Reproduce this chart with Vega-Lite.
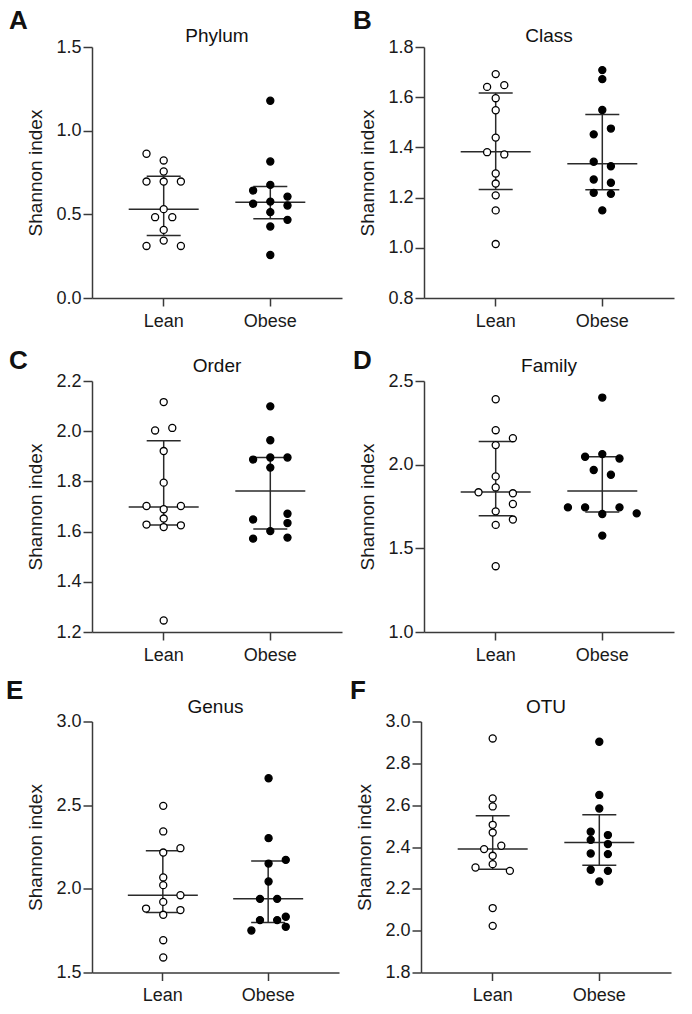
{
"$schema": "https://vega.github.io/schema/vega-lite/v6.json",
"padding": {"left": 5, "top": 8, "right": 5, "bottom": 5},
"config": {
 "font": "Liberation Sans",
 "view": {"stroke": null},
 "title": {"font": "Liberation Sans", "fontWeight": "normal", "fontSize": 19, "color": "#111111"},
 "axis": {"domainColor": "#3a3a3a", "domainWidth": 1.5, "tickColor": "#3a3a3a", "tickWidth": 1.5, "labelFont": "Liberation Sans", "labelFontSize": 18, "labelColor": "#1a1a1a", "titleFont": "Liberation Sans", "titleFontSize": 19, "titleFontWeight": "normal", "titleColor": "#1a1a1a", "grid": false},
 "axisY": {"tickSize": 9, "labelPadding": 2, "titlePadding": 10},
 "axisX": {"tickSize": 8, "labelPadding": 6, "labelAngle": 0}
},
"datasets": {
 "pts": [
  {"panel":"Phylum","group":"Lean","slot":-2,"value":0.862},{"panel":"Phylum","group":"Lean","slot":0,"value":0.822},{"panel":"Phylum","group":"Lean","slot":0,"value":0.756},{"panel":"Phylum","group":"Lean","slot":-2,"value":0.696},{"panel":"Phylum","group":"Lean","slot":0,"value":0.696},{"panel":"Phylum","group":"Lean","slot":2,"value":0.696},{"panel":"Phylum","group":"Lean","slot":0,"value":0.531},{"panel":"Phylum","group":"Lean","slot":-1,"value":0.483},{"panel":"Phylum","group":"Lean","slot":1,"value":0.483},{"panel":"Phylum","group":"Lean","slot":0,"value":0.407},{"panel":"Phylum","group":"Lean","slot":0,"value":0.343},{"panel":"Phylum","group":"Lean","slot":-2,"value":0.311},{"panel":"Phylum","group":"Lean","slot":2,"value":0.311},
  {"panel":"Phylum","group":"Obese","slot":0,"value":1.179},{"panel":"Phylum","group":"Obese","slot":0,"value":0.816},{"panel":"Phylum","group":"Obese","slot":0,"value":0.676},{"panel":"Phylum","group":"Obese","slot":-2,"value":0.642},{"panel":"Phylum","group":"Obese","slot":2,"value":0.606},{"panel":"Phylum","group":"Obese","slot":0,"value":0.576},{"panel":"Phylum","group":"Obese","slot":-2,"value":0.563},{"panel":"Phylum","group":"Obese","slot":2,"value":0.553},{"panel":"Phylum","group":"Obese","slot":0,"value":0.513},{"panel":"Phylum","group":"Obese","slot":2,"value":0.467},{"panel":"Phylum","group":"Obese","slot":0,"value":0.427},{"panel":"Phylum","group":"Obese","slot":0,"value":0.257},
  {"panel":"Class","group":"Lean","slot":0,"value":1.692},{"panel":"Class","group":"Lean","slot":-1,"value":1.641},{"panel":"Class","group":"Lean","slot":1,"value":1.648},{"panel":"Class","group":"Lean","slot":0,"value":1.596},{"panel":"Class","group":"Lean","slot":0,"value":1.548},{"panel":"Class","group":"Lean","slot":0,"value":1.439},{"panel":"Class","group":"Lean","slot":-1,"value":1.381},{"panel":"Class","group":"Lean","slot":1,"value":1.372},{"panel":"Class","group":"Lean","slot":0,"value":1.296},{"panel":"Class","group":"Lean","slot":0,"value":1.256},{"panel":"Class","group":"Lean","slot":0,"value":1.209},{"panel":"Class","group":"Lean","slot":0,"value":1.149},{"panel":"Class","group":"Lean","slot":0,"value":1.015},
  {"panel":"Class","group":"Obese","slot":0,"value":1.708},{"panel":"Class","group":"Obese","slot":0,"value":1.672},{"panel":"Class","group":"Obese","slot":0,"value":1.549},{"panel":"Class","group":"Obese","slot":1,"value":1.475},{"panel":"Class","group":"Obese","slot":-1,"value":1.452},{"panel":"Class","group":"Obese","slot":-1,"value":1.343},{"panel":"Class","group":"Obese","slot":1,"value":1.325},{"panel":"Class","group":"Obese","slot":-1,"value":1.272},{"panel":"Class","group":"Obese","slot":1,"value":1.259},{"panel":"Class","group":"Obese","slot":-1,"value":1.219},{"panel":"Class","group":"Obese","slot":1,"value":1.215},{"panel":"Class","group":"Obese","slot":0,"value":1.149},
  {"panel":"Order","group":"Lean","slot":0,"value":2.116},{"panel":"Order","group":"Lean","slot":-1,"value":2.003},{"panel":"Order","group":"Lean","slot":1,"value":2.013},{"panel":"Order","group":"Lean","slot":0,"value":1.921},{"panel":"Order","group":"Lean","slot":0,"value":1.795},{"panel":"Order","group":"Lean","slot":-2,"value":1.702},{"panel":"Order","group":"Lean","slot":2,"value":1.702},{"panel":"Order","group":"Lean","slot":0,"value":1.689},{"panel":"Order","group":"Lean","slot":0,"value":1.652},{"panel":"Order","group":"Lean","slot":-2,"value":1.628},{"panel":"Order","group":"Lean","slot":0,"value":1.618},{"panel":"Order","group":"Lean","slot":2,"value":1.625},{"panel":"Order","group":"Lean","slot":0,"value":1.246},
  {"panel":"Order","group":"Obese","slot":0,"value":2.099},{"panel":"Order","group":"Obese","slot":0,"value":1.964},{"panel":"Order","group":"Obese","slot":-2,"value":1.887},{"panel":"Order","group":"Obese","slot":0,"value":1.895},{"panel":"Order","group":"Obese","slot":2,"value":1.895},{"panel":"Order","group":"Obese","slot":0,"value":1.855},{"panel":"Order","group":"Obese","slot":2,"value":1.671},{"panel":"Order","group":"Obese","slot":-2,"value":1.648},{"panel":"Order","group":"Obese","slot":2,"value":1.634},{"panel":"Order","group":"Obese","slot":0,"value":1.602},{"panel":"Order","group":"Obese","slot":-2,"value":1.572},{"panel":"Order","group":"Obese","slot":2,"value":1.576},
  {"panel":"Family","group":"Lean","slot":0,"value":2.391},{"panel":"Family","group":"Lean","slot":0,"value":2.206},{"panel":"Family","group":"Lean","slot":2,"value":2.158},{"panel":"Family","group":"Lean","slot":0,"value":2.117},{"panel":"Family","group":"Lean","slot":0,"value":1.930},{"panel":"Family","group":"Lean","slot":0,"value":1.864},{"panel":"Family","group":"Lean","slot":-2,"value":1.835},{"panel":"Family","group":"Lean","slot":2,"value":1.829},{"panel":"Family","group":"Lean","slot":2,"value":1.765},{"panel":"Family","group":"Lean","slot":0,"value":1.721},{"panel":"Family","group":"Lean","slot":2,"value":1.672},{"panel":"Family","group":"Lean","slot":0,"value":1.640},{"panel":"Family","group":"Lean","slot":0,"value":1.393},
  {"panel":"Family","group":"Obese","slot":0,"value":2.401},{"panel":"Family","group":"Obese","slot":-2,"value":2.047},{"panel":"Family","group":"Obese","slot":0,"value":2.063},{"panel":"Family","group":"Obese","slot":2,"value":2.037},{"panel":"Family","group":"Obese","slot":-1,"value":1.968},{"panel":"Family","group":"Obese","slot":1,"value":1.940},{"panel":"Family","group":"Obese","slot":-4,"value":1.745},{"panel":"Family","group":"Obese","slot":-2,"value":1.745},{"panel":"Family","group":"Obese","slot":2,"value":1.745},{"panel":"Family","group":"Obese","slot":0,"value":1.705},{"panel":"Family","group":"Obese","slot":4,"value":1.709},{"panel":"Family","group":"Obese","slot":0,"value":1.576},
  {"panel":"Genus","group":"Lean","slot":0,"value":2.496},{"panel":"Genus","group":"Lean","slot":0,"value":2.343},{"panel":"Genus","group":"Lean","slot":0,"value":2.217},{"panel":"Genus","group":"Lean","slot":2,"value":2.243},{"panel":"Genus","group":"Lean","slot":0,"value":2.068},{"panel":"Genus","group":"Lean","slot":0,"value":2.022},{"panel":"Genus","group":"Lean","slot":2,"value":1.962},{"panel":"Genus","group":"Lean","slot":0,"value":1.922},{"panel":"Genus","group":"Lean","slot":-2,"value":1.882},{"panel":"Genus","group":"Lean","slot":2,"value":1.873},{"panel":"Genus","group":"Lean","slot":0,"value":1.845},{"panel":"Genus","group":"Lean","slot":0,"value":1.693},{"panel":"Genus","group":"Lean","slot":0,"value":1.590},
  {"panel":"Genus","group":"Obese","slot":0,"value":2.661},{"panel":"Genus","group":"Obese","slot":0,"value":2.303},{"panel":"Genus","group":"Obese","slot":0,"value":2.151},{"panel":"Genus","group":"Obese","slot":2,"value":2.173},{"panel":"Genus","group":"Obese","slot":0,"value":2.044},{"panel":"Genus","group":"Obese","slot":-1,"value":1.940},{"panel":"Genus","group":"Obese","slot":1,"value":1.940},{"panel":"Genus","group":"Obese","slot":-1,"value":1.813},{"panel":"Genus","group":"Obese","slot":2,"value":1.833},{"panel":"Genus","group":"Obese","slot":1,"value":1.813},{"panel":"Genus","group":"Obese","slot":2,"value":1.773},{"panel":"Genus","group":"Obese","slot":-2,"value":1.751},
  {"panel":"OTU","group":"Lean","slot":0,"value":2.919},{"panel":"OTU","group":"Lean","slot":0,"value":2.632},{"panel":"OTU","group":"Lean","slot":0,"value":2.594},{"panel":"OTU","group":"Lean","slot":0,"value":2.506},{"panel":"OTU","group":"Lean","slot":0,"value":2.469},{"panel":"OTU","group":"Lean","slot":1,"value":2.406},{"panel":"OTU","group":"Lean","slot":-1,"value":2.390},{"panel":"OTU","group":"Lean","slot":0,"value":2.358},{"panel":"OTU","group":"Lean","slot":0,"value":2.318},{"panel":"OTU","group":"Lean","slot":-2,"value":2.302},{"panel":"OTU","group":"Lean","slot":2,"value":2.286},{"panel":"OTU","group":"Lean","slot":0,"value":2.108},{"panel":"OTU","group":"Lean","slot":0,"value":2.023},
  {"panel":"OTU","group":"Obese","slot":0,"value":2.903},{"panel":"OTU","group":"Obese","slot":0,"value":2.649},{"panel":"OTU","group":"Obese","slot":0,"value":2.584},{"panel":"OTU","group":"Obese","slot":-1,"value":2.473},{"panel":"OTU","group":"Obese","slot":1,"value":2.457},{"panel":"OTU","group":"Obese","slot":-1,"value":2.434},{"panel":"OTU","group":"Obese","slot":1,"value":2.414},{"panel":"OTU","group":"Obese","slot":-1,"value":2.369},{"panel":"OTU","group":"Obese","slot":1,"value":2.366},{"panel":"OTU","group":"Obese","slot":-1,"value":2.291},{"panel":"OTU","group":"Obese","slot":1,"value":2.286},{"panel":"OTU","group":"Obese","slot":0,"value":2.235}
 ],
 "sum": [
  {"panel":"Phylum","group":"Lean","median":0.531,"q1":0.373,"q3":0.728},{"panel":"Phylum","group":"Obese","median":0.572,"q1":0.473,"q3":0.666},
  {"panel":"Class","group":"Lean","median":1.383,"q1":1.232,"q3":1.617},{"panel":"Class","group":"Obese","median":1.335,"q1":1.231,"q3":1.531},
  {"panel":"Order","group":"Lean","median":1.698,"q1":1.626,"q3":1.962},{"panel":"Order","group":"Obese","median":1.762,"q1":1.610,"q3":1.895},
  {"panel":"Family","group":"Lean","median":1.836,"q1":1.695,"q3":2.138},{"panel":"Family","group":"Obese","median":1.842,"q1":1.717,"q3":2.047},
  {"panel":"Genus","group":"Lean","median":1.962,"q1":1.859,"q3":2.227},{"panel":"Genus","group":"Obese","median":1.940,"q1":1.799,"q3":2.167},
  {"panel":"OTU","group":"Lean","median":2.390,"q1":2.294,"q3":2.549},{"panel":"OTU","group":"Obese","median":2.422,"q1":2.313,"q3":2.554}
 ]
},
"spacing": 13.5,
"vconcat": [
 {"spacing": 18, "vconcat": [
 {"spacing": 10, "hconcat": [
  {"title": {"text": "A", "anchor": "start", "frame": "bounds", "fontSize": 26, "fontWeight": "bold", "dx": -18, "offset": -28, "baseline": "alphabetic"},
   "vconcat": [{"width": 250, "height": 251,
    "title": {"text": "Phylum", "frame": "group", "anchor": "middle", "baseline": "alphabetic", "offset": -23},
    "layer": [
     {"data": {"name": "sum"}, "transform": [{"filter": "datum.panel == 'Phylum'"}], "mark": {"type": "rule", "color": "#2a2a2a", "strokeWidth": 1.5},
      "encoding": {"x": {"field": "group", "type": "nominal", "title": null, "scale": {"type": "band", "domain": ["Lean", "Obese"], "paddingInner": 0.355, "paddingOuter": 0.35}},
       "y": {"field": "q1", "type": "quantitative", "title": "Shannon index", "scale": {"domain": [0, 1.5], "nice": false, "zero": false}, "axis": {"values": [0, 0.5, 1, 1.5], "format": ".1f"}}, "y2": {"field": "q3"}}},
     {"data": {"name": "sum"}, "transform": [{"filter": "datum.panel == 'Phylum'"}], "mark": {"type": "tick", "size": 70, "thickness": 1.5, "color": "#2a2a2a", "opacity": 1},
      "encoding": {"x": {"field": "group", "type": "nominal", "title": null, "scale": {"type": "band", "domain": ["Lean", "Obese"], "paddingInner": 0.355, "paddingOuter": 0.35}},
       "y": {"field": "median", "type": "quantitative", "title": "Shannon index", "scale": {"domain": [0, 1.5], "nice": false, "zero": false}, "axis": {"values": [0, 0.5, 1, 1.5], "format": ".1f"}}}},
     {"data": {"name": "sum"}, "transform": [{"filter": "datum.panel == 'Phylum'"}], "mark": {"type": "tick", "size": 34, "thickness": 1.5, "color": "#2a2a2a", "opacity": 1},
      "encoding": {"x": {"field": "group", "type": "nominal", "title": null, "scale": {"type": "band", "domain": ["Lean", "Obese"], "paddingInner": 0.355, "paddingOuter": 0.35}},
       "y": {"field": "q1", "type": "quantitative", "title": "Shannon index", "scale": {"domain": [0, 1.5], "nice": false, "zero": false}, "axis": {"values": [0, 0.5, 1, 1.5], "format": ".1f"}}}},
     {"data": {"name": "sum"}, "transform": [{"filter": "datum.panel == 'Phylum'"}], "mark": {"type": "tick", "size": 34, "thickness": 1.5, "color": "#2a2a2a", "opacity": 1},
      "encoding": {"x": {"field": "group", "type": "nominal", "title": null, "scale": {"type": "band", "domain": ["Lean", "Obese"], "paddingInner": 0.355, "paddingOuter": 0.35}},
       "y": {"field": "q3", "type": "quantitative", "title": "Shannon index", "scale": {"domain": [0, 1.5], "nice": false, "zero": false}, "axis": {"values": [0, 0.5, 1, 1.5], "format": ".1f"}}}},
     {"data": {"name": "pts"}, "transform": [{"filter": "datum.panel == 'Phylum'"}], "mark": {"type": "circle", "size": 50, "stroke": "#000000", "strokeWidth": 1.3, "opacity": 1},
      "encoding": {"x": {"field": "group", "type": "nominal", "title": null, "scale": {"type": "band", "domain": ["Lean", "Obese"], "paddingInner": 0.355, "paddingOuter": 0.35}},
       "xOffset": {"field": "slot", "type": "ordinal", "scale": {"domain": [-4, -3, -2, -1, 0, 1, 2, 3, 4], "paddingInner": 0, "paddingOuter": 0}},
       "y": {"field": "value", "type": "quantitative", "title": "Shannon index", "scale": {"domain": [0, 1.5], "nice": false, "zero": false}, "axis": {"values": [0, 0.5, 1, 1.5], "format": ".1f"}},
       "fill": {"field": "group", "type": "nominal", "legend": null, "scale": {"domain": ["Lean", "Obese"], "range": ["#ffffff", "#000000"]}}}}
    ]}]},
  {"title": {"text": "B", "anchor": "start", "frame": "bounds", "fontSize": 26, "fontWeight": "bold", "dx": -6, "offset": -28, "baseline": "alphabetic"},
   "vconcat": [{"width": 250, "height": 251,
    "title": {"text": "Class", "frame": "group", "anchor": "middle", "baseline": "alphabetic", "offset": -23},
    "layer": [
     {"data": {"name": "sum"}, "transform": [{"filter": "datum.panel == 'Class'"}], "mark": {"type": "rule", "color": "#2a2a2a", "strokeWidth": 1.5},
      "encoding": {"x": {"field": "group", "type": "nominal", "title": null, "scale": {"type": "band", "domain": ["Lean", "Obese"], "paddingInner": 0.355, "paddingOuter": 0.35}},
       "y": {"field": "q1", "type": "quantitative", "title": "Shannon index", "scale": {"domain": [0.8, 1.8], "nice": false, "zero": false}, "axis": {"values": [0.8, 1.0, 1.2, 1.4, 1.6, 1.8], "format": ".1f"}}, "y2": {"field": "q3"}}},
     {"data": {"name": "sum"}, "transform": [{"filter": "datum.panel == 'Class'"}], "mark": {"type": "tick", "size": 70, "thickness": 1.5, "color": "#2a2a2a", "opacity": 1},
      "encoding": {"x": {"field": "group", "type": "nominal", "title": null, "scale": {"type": "band", "domain": ["Lean", "Obese"], "paddingInner": 0.355, "paddingOuter": 0.35}},
       "y": {"field": "median", "type": "quantitative", "title": "Shannon index", "scale": {"domain": [0.8, 1.8], "nice": false, "zero": false}, "axis": {"values": [0.8, 1.0, 1.2, 1.4, 1.6, 1.8], "format": ".1f"}}}},
     {"data": {"name": "sum"}, "transform": [{"filter": "datum.panel == 'Class'"}], "mark": {"type": "tick", "size": 34, "thickness": 1.5, "color": "#2a2a2a", "opacity": 1},
      "encoding": {"x": {"field": "group", "type": "nominal", "title": null, "scale": {"type": "band", "domain": ["Lean", "Obese"], "paddingInner": 0.355, "paddingOuter": 0.35}},
       "y": {"field": "q1", "type": "quantitative", "title": "Shannon index", "scale": {"domain": [0.8, 1.8], "nice": false, "zero": false}, "axis": {"values": [0.8, 1.0, 1.2, 1.4, 1.6, 1.8], "format": ".1f"}}}},
     {"data": {"name": "sum"}, "transform": [{"filter": "datum.panel == 'Class'"}], "mark": {"type": "tick", "size": 34, "thickness": 1.5, "color": "#2a2a2a", "opacity": 1},
      "encoding": {"x": {"field": "group", "type": "nominal", "title": null, "scale": {"type": "band", "domain": ["Lean", "Obese"], "paddingInner": 0.355, "paddingOuter": 0.35}},
       "y": {"field": "q3", "type": "quantitative", "title": "Shannon index", "scale": {"domain": [0.8, 1.8], "nice": false, "zero": false}, "axis": {"values": [0.8, 1.0, 1.2, 1.4, 1.6, 1.8], "format": ".1f"}}}},
     {"data": {"name": "pts"}, "transform": [{"filter": "datum.panel == 'Class'"}], "mark": {"type": "circle", "size": 50, "stroke": "#000000", "strokeWidth": 1.3, "opacity": 1},
      "encoding": {"x": {"field": "group", "type": "nominal", "title": null, "scale": {"type": "band", "domain": ["Lean", "Obese"], "paddingInner": 0.355, "paddingOuter": 0.35}},
       "xOffset": {"field": "slot", "type": "ordinal", "scale": {"domain": [-4, -3, -2, -1, 0, 1, 2, 3, 4], "paddingInner": 0, "paddingOuter": 0}},
       "y": {"field": "value", "type": "quantitative", "title": "Shannon index", "scale": {"domain": [0.8, 1.8], "nice": false, "zero": false}, "axis": {"values": [0.8, 1.0, 1.2, 1.4, 1.6, 1.8], "format": ".1f"}},
       "fill": {"field": "group", "type": "nominal", "legend": null, "scale": {"domain": ["Lean", "Obese"], "range": ["#ffffff", "#000000"]}}}}
    ]}]}
 ]},
 {"spacing": 10, "hconcat": [
  {"title": {"text": "C", "anchor": "start", "frame": "bounds", "fontSize": 26, "fontWeight": "bold", "dx": -18, "offset": -38, "baseline": "alphabetic"},
   "vconcat": [{"width": 250, "height": 251,
    "title": {"text": "Order", "frame": "group", "anchor": "middle", "baseline": "alphabetic", "offset": -19},
    "layer": [
     {"data": {"name": "sum"}, "transform": [{"filter": "datum.panel == 'Order'"}], "mark": {"type": "rule", "color": "#2a2a2a", "strokeWidth": 1.5},
      "encoding": {"x": {"field": "group", "type": "nominal", "title": null, "scale": {"type": "band", "domain": ["Lean", "Obese"], "paddingInner": 0.355, "paddingOuter": 0.35}},
       "y": {"field": "q1", "type": "quantitative", "title": "Shannon index", "scale": {"domain": [1.2, 2.2], "nice": false, "zero": false}, "axis": {"values": [1.2, 1.4, 1.6, 1.8, 2.0, 2.2], "format": ".1f"}}, "y2": {"field": "q3"}}},
     {"data": {"name": "sum"}, "transform": [{"filter": "datum.panel == 'Order'"}], "mark": {"type": "tick", "size": 70, "thickness": 1.5, "color": "#2a2a2a", "opacity": 1},
      "encoding": {"x": {"field": "group", "type": "nominal", "title": null, "scale": {"type": "band", "domain": ["Lean", "Obese"], "paddingInner": 0.355, "paddingOuter": 0.35}},
       "y": {"field": "median", "type": "quantitative", "title": "Shannon index", "scale": {"domain": [1.2, 2.2], "nice": false, "zero": false}, "axis": {"values": [1.2, 1.4, 1.6, 1.8, 2.0, 2.2], "format": ".1f"}}}},
     {"data": {"name": "sum"}, "transform": [{"filter": "datum.panel == 'Order'"}], "mark": {"type": "tick", "size": 34, "thickness": 1.5, "color": "#2a2a2a", "opacity": 1},
      "encoding": {"x": {"field": "group", "type": "nominal", "title": null, "scale": {"type": "band", "domain": ["Lean", "Obese"], "paddingInner": 0.355, "paddingOuter": 0.35}},
       "y": {"field": "q1", "type": "quantitative", "title": "Shannon index", "scale": {"domain": [1.2, 2.2], "nice": false, "zero": false}, "axis": {"values": [1.2, 1.4, 1.6, 1.8, 2.0, 2.2], "format": ".1f"}}}},
     {"data": {"name": "sum"}, "transform": [{"filter": "datum.panel == 'Order'"}], "mark": {"type": "tick", "size": 34, "thickness": 1.5, "color": "#2a2a2a", "opacity": 1},
      "encoding": {"x": {"field": "group", "type": "nominal", "title": null, "scale": {"type": "band", "domain": ["Lean", "Obese"], "paddingInner": 0.355, "paddingOuter": 0.35}},
       "y": {"field": "q3", "type": "quantitative", "title": "Shannon index", "scale": {"domain": [1.2, 2.2], "nice": false, "zero": false}, "axis": {"values": [1.2, 1.4, 1.6, 1.8, 2.0, 2.2], "format": ".1f"}}}},
     {"data": {"name": "pts"}, "transform": [{"filter": "datum.panel == 'Order'"}], "mark": {"type": "circle", "size": 50, "stroke": "#000000", "strokeWidth": 1.3, "opacity": 1},
      "encoding": {"x": {"field": "group", "type": "nominal", "title": null, "scale": {"type": "band", "domain": ["Lean", "Obese"], "paddingInner": 0.355, "paddingOuter": 0.35}},
       "xOffset": {"field": "slot", "type": "ordinal", "scale": {"domain": [-4, -3, -2, -1, 0, 1, 2, 3, 4], "paddingInner": 0, "paddingOuter": 0}},
       "y": {"field": "value", "type": "quantitative", "title": "Shannon index", "scale": {"domain": [1.2, 2.2], "nice": false, "zero": false}, "axis": {"values": [1.2, 1.4, 1.6, 1.8, 2.0, 2.2], "format": ".1f"}},
       "fill": {"field": "group", "type": "nominal", "legend": null, "scale": {"domain": ["Lean", "Obese"], "range": ["#ffffff", "#000000"]}}}}
    ]}]},
  {"title": {"text": "D", "anchor": "start", "frame": "bounds", "fontSize": 26, "fontWeight": "bold", "dx": -6, "offset": -38, "baseline": "alphabetic"},
   "vconcat": [{"width": 250, "height": 251,
    "title": {"text": "Family", "frame": "group", "anchor": "middle", "baseline": "alphabetic", "offset": -19},
    "layer": [
     {"data": {"name": "sum"}, "transform": [{"filter": "datum.panel == 'Family'"}], "mark": {"type": "rule", "color": "#2a2a2a", "strokeWidth": 1.5},
      "encoding": {"x": {"field": "group", "type": "nominal", "title": null, "scale": {"type": "band", "domain": ["Lean", "Obese"], "paddingInner": 0.355, "paddingOuter": 0.35}},
       "y": {"field": "q1", "type": "quantitative", "title": "Shannon index", "scale": {"domain": [1.0, 2.5], "nice": false, "zero": false}, "axis": {"values": [1.0, 1.5, 2.0, 2.5], "format": ".1f"}}, "y2": {"field": "q3"}}},
     {"data": {"name": "sum"}, "transform": [{"filter": "datum.panel == 'Family'"}], "mark": {"type": "tick", "size": 70, "thickness": 1.5, "color": "#2a2a2a", "opacity": 1},
      "encoding": {"x": {"field": "group", "type": "nominal", "title": null, "scale": {"type": "band", "domain": ["Lean", "Obese"], "paddingInner": 0.355, "paddingOuter": 0.35}},
       "y": {"field": "median", "type": "quantitative", "title": "Shannon index", "scale": {"domain": [1.0, 2.5], "nice": false, "zero": false}, "axis": {"values": [1.0, 1.5, 2.0, 2.5], "format": ".1f"}}}},
     {"data": {"name": "sum"}, "transform": [{"filter": "datum.panel == 'Family'"}], "mark": {"type": "tick", "size": 34, "thickness": 1.5, "color": "#2a2a2a", "opacity": 1},
      "encoding": {"x": {"field": "group", "type": "nominal", "title": null, "scale": {"type": "band", "domain": ["Lean", "Obese"], "paddingInner": 0.355, "paddingOuter": 0.35}},
       "y": {"field": "q1", "type": "quantitative", "title": "Shannon index", "scale": {"domain": [1.0, 2.5], "nice": false, "zero": false}, "axis": {"values": [1.0, 1.5, 2.0, 2.5], "format": ".1f"}}}},
     {"data": {"name": "sum"}, "transform": [{"filter": "datum.panel == 'Family'"}], "mark": {"type": "tick", "size": 34, "thickness": 1.5, "color": "#2a2a2a", "opacity": 1},
      "encoding": {"x": {"field": "group", "type": "nominal", "title": null, "scale": {"type": "band", "domain": ["Lean", "Obese"], "paddingInner": 0.355, "paddingOuter": 0.35}},
       "y": {"field": "q3", "type": "quantitative", "title": "Shannon index", "scale": {"domain": [1.0, 2.5], "nice": false, "zero": false}, "axis": {"values": [1.0, 1.5, 2.0, 2.5], "format": ".1f"}}}},
     {"data": {"name": "pts"}, "transform": [{"filter": "datum.panel == 'Family'"}], "mark": {"type": "circle", "size": 50, "stroke": "#000000", "strokeWidth": 1.3, "opacity": 1},
      "encoding": {"x": {"field": "group", "type": "nominal", "title": null, "scale": {"type": "band", "domain": ["Lean", "Obese"], "paddingInner": 0.355, "paddingOuter": 0.35}},
       "xOffset": {"field": "slot", "type": "ordinal", "scale": {"domain": [-4, -3, -2, -1, 0, 1, 2, 3, 4], "paddingInner": 0, "paddingOuter": 0}},
       "y": {"field": "value", "type": "quantitative", "title": "Shannon index", "scale": {"domain": [1.0, 2.5], "nice": false, "zero": false}, "axis": {"values": [1.0, 1.5, 2.0, 2.5], "format": ".1f"}},
       "fill": {"field": "group", "type": "nominal", "legend": null, "scale": {"domain": ["Lean", "Obese"], "range": ["#ffffff", "#000000"]}}}}
    ]}]}
 ]}
 ]},
 {"spacing": 10, "hconcat": [
  {"title": {"text": "E", "anchor": "start", "frame": "bounds", "fontSize": 26, "fontWeight": "bold", "dx": -21, "offset": -27, "baseline": "alphabetic"},
   "vconcat": [{"width": 247, "height": 251,
    "title": {"text": "Genus", "frame": "group", "anchor": "middle", "baseline": "alphabetic", "offset": -19},
    "layer": [
     {"data": {"name": "sum"}, "transform": [{"filter": "datum.panel == 'Genus'"}], "mark": {"type": "rule", "color": "#2a2a2a", "strokeWidth": 1.5},
      "encoding": {"x": {"field": "group", "type": "nominal", "title": null, "scale": {"type": "band", "domain": ["Lean", "Obese"], "paddingInner": 0.355, "paddingOuter": 0.35}},
       "y": {"field": "q1", "type": "quantitative", "title": "Shannon index", "scale": {"domain": [1.5, 3.0], "nice": false, "zero": false}, "axis": {"values": [1.5, 2.0, 2.5, 3.0], "format": ".1f"}}, "y2": {"field": "q3"}}},
     {"data": {"name": "sum"}, "transform": [{"filter": "datum.panel == 'Genus'"}], "mark": {"type": "tick", "size": 70, "thickness": 1.5, "color": "#2a2a2a", "opacity": 1},
      "encoding": {"x": {"field": "group", "type": "nominal", "title": null, "scale": {"type": "band", "domain": ["Lean", "Obese"], "paddingInner": 0.355, "paddingOuter": 0.35}},
       "y": {"field": "median", "type": "quantitative", "title": "Shannon index", "scale": {"domain": [1.5, 3.0], "nice": false, "zero": false}, "axis": {"values": [1.5, 2.0, 2.5, 3.0], "format": ".1f"}}}},
     {"data": {"name": "sum"}, "transform": [{"filter": "datum.panel == 'Genus'"}], "mark": {"type": "tick", "size": 34, "thickness": 1.5, "color": "#2a2a2a", "opacity": 1},
      "encoding": {"x": {"field": "group", "type": "nominal", "title": null, "scale": {"type": "band", "domain": ["Lean", "Obese"], "paddingInner": 0.355, "paddingOuter": 0.35}},
       "y": {"field": "q1", "type": "quantitative", "title": "Shannon index", "scale": {"domain": [1.5, 3.0], "nice": false, "zero": false}, "axis": {"values": [1.5, 2.0, 2.5, 3.0], "format": ".1f"}}}},
     {"data": {"name": "sum"}, "transform": [{"filter": "datum.panel == 'Genus'"}], "mark": {"type": "tick", "size": 34, "thickness": 1.5, "color": "#2a2a2a", "opacity": 1},
      "encoding": {"x": {"field": "group", "type": "nominal", "title": null, "scale": {"type": "band", "domain": ["Lean", "Obese"], "paddingInner": 0.355, "paddingOuter": 0.35}},
       "y": {"field": "q3", "type": "quantitative", "title": "Shannon index", "scale": {"domain": [1.5, 3.0], "nice": false, "zero": false}, "axis": {"values": [1.5, 2.0, 2.5, 3.0], "format": ".1f"}}}},
     {"data": {"name": "pts"}, "transform": [{"filter": "datum.panel == 'Genus'"}], "mark": {"type": "circle", "size": 50, "stroke": "#000000", "strokeWidth": 1.3, "opacity": 1},
      "encoding": {"x": {"field": "group", "type": "nominal", "title": null, "scale": {"type": "band", "domain": ["Lean", "Obese"], "paddingInner": 0.355, "paddingOuter": 0.35}},
       "xOffset": {"field": "slot", "type": "ordinal", "scale": {"domain": [-4, -3, -2, -1, 0, 1, 2, 3, 4], "paddingInner": 0, "paddingOuter": 0}},
       "y": {"field": "value", "type": "quantitative", "title": "Shannon index", "scale": {"domain": [1.5, 3.0], "nice": false, "zero": false}, "axis": {"values": [1.5, 2.0, 2.5, 3.0], "format": ".1f"}},
       "fill": {"field": "group", "type": "nominal", "legend": null, "scale": {"domain": ["Lean", "Obese"], "range": ["#ffffff", "#000000"]}}}}
    ]}]},
  {"title": {"text": "F", "anchor": "start", "frame": "bounds", "fontSize": 26, "fontWeight": "bold", "dx": -6, "offset": -27, "baseline": "alphabetic"},
   "vconcat": [{"width": 250, "height": 251,
    "title": {"text": "OTU", "frame": "group", "anchor": "middle", "baseline": "alphabetic", "offset": -19},
    "layer": [
     {"data": {"name": "sum"}, "transform": [{"filter": "datum.panel == 'OTU'"}], "mark": {"type": "rule", "color": "#2a2a2a", "strokeWidth": 1.5},
      "encoding": {"x": {"field": "group", "type": "nominal", "title": null, "scale": {"type": "band", "domain": ["Lean", "Obese"], "paddingInner": 0.355, "paddingOuter": 0.35}},
       "y": {"field": "q1", "type": "quantitative", "title": "Shannon index", "scale": {"domain": [1.8, 3.0], "nice": false, "zero": false}, "axis": {"values": [1.8, 2.0, 2.2, 2.4, 2.6, 2.8, 3.0], "format": ".1f"}}, "y2": {"field": "q3"}}},
     {"data": {"name": "sum"}, "transform": [{"filter": "datum.panel == 'OTU'"}], "mark": {"type": "tick", "size": 70, "thickness": 1.5, "color": "#2a2a2a", "opacity": 1},
      "encoding": {"x": {"field": "group", "type": "nominal", "title": null, "scale": {"type": "band", "domain": ["Lean", "Obese"], "paddingInner": 0.355, "paddingOuter": 0.35}},
       "y": {"field": "median", "type": "quantitative", "title": "Shannon index", "scale": {"domain": [1.8, 3.0], "nice": false, "zero": false}, "axis": {"values": [1.8, 2.0, 2.2, 2.4, 2.6, 2.8, 3.0], "format": ".1f"}}}},
     {"data": {"name": "sum"}, "transform": [{"filter": "datum.panel == 'OTU'"}], "mark": {"type": "tick", "size": 34, "thickness": 1.5, "color": "#2a2a2a", "opacity": 1},
      "encoding": {"x": {"field": "group", "type": "nominal", "title": null, "scale": {"type": "band", "domain": ["Lean", "Obese"], "paddingInner": 0.355, "paddingOuter": 0.35}},
       "y": {"field": "q1", "type": "quantitative", "title": "Shannon index", "scale": {"domain": [1.8, 3.0], "nice": false, "zero": false}, "axis": {"values": [1.8, 2.0, 2.2, 2.4, 2.6, 2.8, 3.0], "format": ".1f"}}}},
     {"data": {"name": "sum"}, "transform": [{"filter": "datum.panel == 'OTU'"}], "mark": {"type": "tick", "size": 34, "thickness": 1.5, "color": "#2a2a2a", "opacity": 1},
      "encoding": {"x": {"field": "group", "type": "nominal", "title": null, "scale": {"type": "band", "domain": ["Lean", "Obese"], "paddingInner": 0.355, "paddingOuter": 0.35}},
       "y": {"field": "q3", "type": "quantitative", "title": "Shannon index", "scale": {"domain": [1.8, 3.0], "nice": false, "zero": false}, "axis": {"values": [1.8, 2.0, 2.2, 2.4, 2.6, 2.8, 3.0], "format": ".1f"}}}},
     {"data": {"name": "pts"}, "transform": [{"filter": "datum.panel == 'OTU'"}], "mark": {"type": "circle", "size": 50, "stroke": "#000000", "strokeWidth": 1.3, "opacity": 1},
      "encoding": {"x": {"field": "group", "type": "nominal", "title": null, "scale": {"type": "band", "domain": ["Lean", "Obese"], "paddingInner": 0.355, "paddingOuter": 0.35}},
       "xOffset": {"field": "slot", "type": "ordinal", "scale": {"domain": [-4, -3, -2, -1, 0, 1, 2, 3, 4], "paddingInner": 0, "paddingOuter": 0}},
       "y": {"field": "value", "type": "quantitative", "title": "Shannon index", "scale": {"domain": [1.8, 3.0], "nice": false, "zero": false}, "axis": {"values": [1.8, 2.0, 2.2, 2.4, 2.6, 2.8, 3.0], "format": ".1f"}},
       "fill": {"field": "group", "type": "nominal", "legend": null, "scale": {"domain": ["Lean", "Obese"], "range": ["#ffffff", "#000000"]}}}}
    ]}]}
 ]}
]
}
